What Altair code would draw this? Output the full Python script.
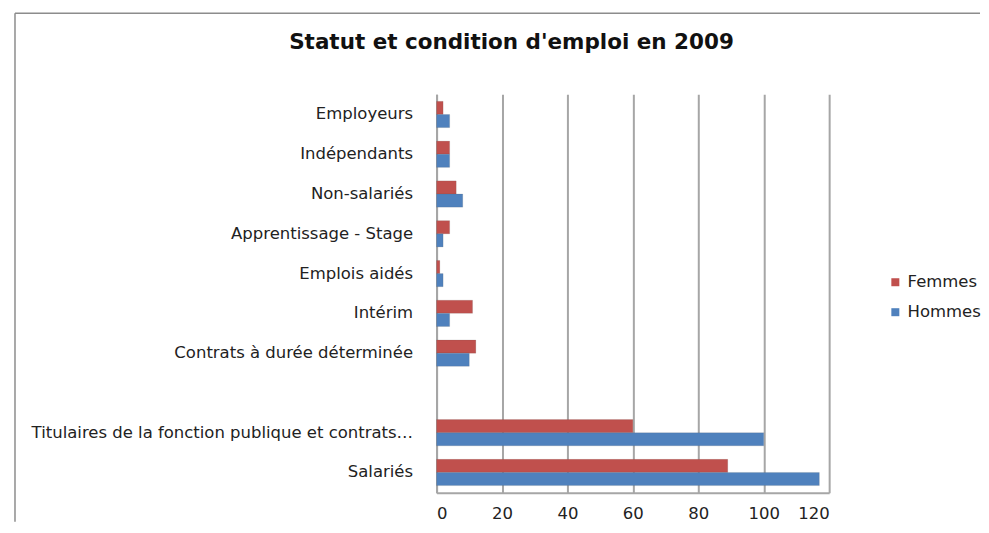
import altair as alt
import pandas as pd

categories = ["Employeurs", "Indépendants", "Non-salariés", "Apprentissage - Stage",
              "Emplois aidés", "Intérim", "Contrats à durée déterminée", " ",
              "Titulaires de la fonction publique et contrats…", "Salariés"]
femmes = [2, 4, 6, 4, 1, 11, 12, None, 60, 89]
hommes = [4, 4, 8, 2, 2, 4, 10, None, 100, 117]
series = ["Femmes", "Hommes"]
colors = ["#C0504D", "#4F81BD"]
ticks = [0, 20, 40, 60, 80, 100, 120]
title_text = "Statut et condition d'emploi en 2009"

rows = []
for c, f, h in zip(categories, femmes, hommes):
    if f is not None:
        rows.append({"cat": c, "serie": "Femmes", "val": f})
    if h is not None:
        rows.append({"cat": c, "serie": "Hommes", "val": h})
df = pd.DataFrame(rows)

W, H = 393, 399
FONT = "DejaVu Sans"
FS = 16.5

bars = alt.Chart(df).mark_bar(stroke="#5a5a5a", strokeWidth=0.3, strokeOpacity=0.5).encode(
    x=alt.X("val:Q", scale=alt.Scale(domain=[0, 120], nice=False),
            axis=alt.Axis(values=ticks, title=None, grid=True, gridColor="#a6a6a6",
                          gridWidth=2, ticks=False, domainColor="#a6a6a6", domainWidth=2,
                          labelFontSize=FS, labelFont=FONT, labelColor="#222",
                          labelPadding=13)),
    y=alt.Y("cat:N", scale=alt.Scale(domain=categories, paddingInner=0.34, paddingOuter=0.18),
            axis=alt.Axis(title=None, ticks=False, domainColor="#a6a6a6", domainWidth=2,
                          labelFontSize=FS, labelFont=FONT, labelColor="#222",
                          labelPadding=24, labelLimit=500)),
    yOffset=alt.YOffset("serie:N", sort=series),
    color=alt.Color("serie:N", scale=alt.Scale(domain=series, range=colors),
                    legend=alt.Legend(title=None, orient="none", legendX=451, legendY=180,
                                      symbolType="square", symbolSize=64,
                                      labelFontSize=FS, labelFont=FONT, labelColor="#222",
                                      rowPadding=13, symbolStrokeWidth=0)),
)

frame = pd.DataFrame([{"a": 0}])
left_border = alt.Chart(frame).mark_rule(color="#8c8c8c", strokeWidth=1.5).encode(
    x=alt.value(-422), y=alt.value(-81), y2=alt.value(428))
top_border = alt.Chart(frame).mark_rule(color="#8c8c8c", strokeWidth=1.5).encode(
    x=alt.value(-422), x2=alt.value(544), y=alt.value(-81))
title = alt.Chart(frame).mark_text(text=title_text, font=FONT, fontSize=21.5,
                                   fontWeight="bold", color="#111").encode(
    x=alt.value(75), y=alt.value(-51))

chart = alt.layer(left_border, top_border, title, bars).properties(
    width=W, height=H,
    padding={"left": 6, "top": 4, "right": 0, "bottom": 0},
).configure_view(stroke=None)

chart.save("out.html", embed_options={"renderer": "svg", "actions": False})
